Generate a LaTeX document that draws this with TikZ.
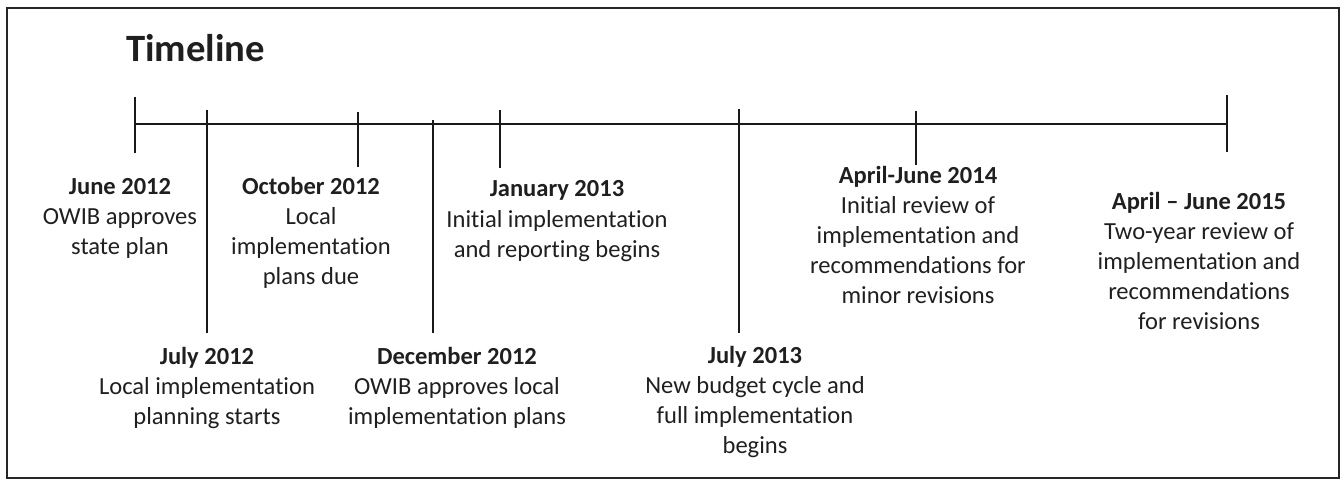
\documentclass[tikz,border=0pt]{standalone}
\usepackage{fontspec}
\setmainfont{Carlito}[Ligatures={TeX,NoCommon}]
\begin{document}
\begin{tikzpicture}[x=0.75pt, y=-0.75pt,
  event/.style={align=center, inner sep=0pt, anchor=base, text=black!88, font=\fontsize{18.4}{22.5}\selectfont},
  tickline/.style={line width=1.5pt, black!90}]
\useasboundingbox (0,0) rectangle (1342,481);
\draw[line width=1.6pt, black!85] (7,8) rectangle (1339,478);
\node[anchor=base west, inner sep=0pt, text=black!88, font=\fontsize{29}{35}\selectfont\bfseries] (title) at (126,62) {Timeline};
% main axis
\coordinate (start) at (135,124);
\coordinate (stop) at (1227,124);
\draw[tickline] (start) -- (stop);
% ticks: x / top / bottom
\foreach \x/\a/\b in {135/97/153, 207/110/333, 358/112/167, 433/120/333,
  500/110/168, 739/109/333, 916/111/165, 1227/95/152}
  \draw[tickline] (\x,\a) -- (\x,\b);
% nodes sit on the baseline of their last line
\node[event] (jun12) at (120,254) {\textbf{June 2012}\\OWIB approves\\state plan};
\node[event] (oct12) at (311,284) {\textbf{October 2012}\\Local\\implementation\\plans due};
\node[event] (jan13) at (557,257) {\textbf{January 2013}\\Initial implementation\\and reporting begins};
\node[event] (apr14) at (918,303) {\textbf{April-June 2014}\\Initial review of\\implementation and\\recommendations for\\minor revisions};
\node[event] (apr15) at (1199,329) {\textbf{April – June 2015}\\Two-year review of\\implementation and\\recommendations\\for revisions};
% below the long ticks
\node[event] (jul12) at (207,424) {\textbf{July 2012}\\Local implementation\\planning starts};
\node[event] (dec12) at (457,424) {\textbf{December 2012}\\OWIB approves local\\implementation plans};
\node[event] (jul13) at (755,453) {\textbf{July 2013}\\New budget cycle and\\full implementation\\begins};
\end{tikzpicture}
\end{document}
